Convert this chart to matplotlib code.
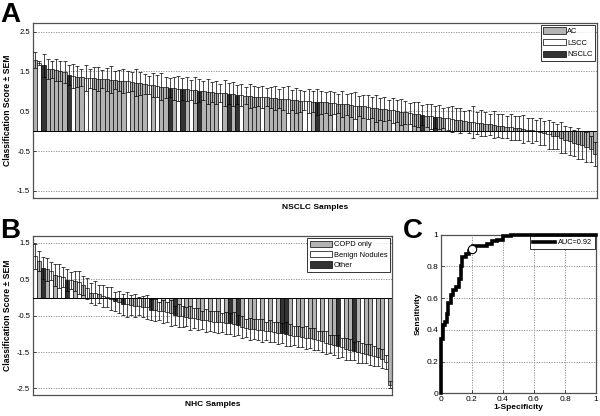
import matplotlib
matplotlib.use('Agg')
import matplotlib.pyplot as plt
import numpy as np
from matplotlib.patches import Patch

plt.rcParams['font.family'] = ['Liberation Sans', 'DejaVu Sans']

# ---------------- Panel A data (NSCLC samples, sorted) ----------------
nsclc_scores = [
    1.79, 1.70, 1.65, 1.56, 1.55, 1.53, 1.51, 1.49, 1.42, 1.39,
    1.37, 1.35, 1.34, 1.33, 1.33, 1.32, 1.31, 1.30, 1.29, 1.28,
    1.27, 1.26, 1.25, 1.24, 1.22, 1.20, 1.18, 1.16, 1.15, 1.13,
    1.12, 1.10, 1.09, 1.08, 1.07, 1.06, 1.05, 1.04, 1.03, 1.02,
    1.01, 0.99, 0.98, 0.97, 0.96, 0.95, 0.94, 0.93, 0.92, 0.91,
    0.89, 0.88, 0.87, 0.86, 0.85, 0.85, 0.84, 0.83, 0.82, 0.81,
    0.80, 0.78, 0.77, 0.76, 0.76, 0.75, 0.74, 0.73, 0.73, 0.72,
    0.71, 0.70, 0.69, 0.68, 0.67, 0.66, 0.64, 0.63, 0.62, 0.61,
    0.59, 0.57, 0.56, 0.55, 0.53, 0.52, 0.50, 0.49, 0.47, 0.45,
    0.44, 0.42, 0.41, 0.39, 0.37, 0.36, 0.35, 0.33, 0.32, 0.31,
    0.29, 0.27, 0.26, 0.24, 0.22, 0.21, 0.20, 0.18, 0.17, 0.16,
    0.14, 0.13, 0.11, 0.10, 0.08, 0.07, 0.05, 0.04, 0.02, 0.01,
    -0.01, -0.04, -0.08, -0.11, -0.13, -0.16, -0.21, -0.25, -0.29, -0.32,
    -0.35, -0.40, -0.44, -0.57,
]
nsclc_sem = [
    0.20, 0.05, 0.30, 0.25, 0.22, 0.27, 0.24, 0.28, 0.25, 0.30,
    0.26, 0.22, 0.32, 0.24, 0.27, 0.30, 0.23, 0.28, 0.34, 0.22,
    0.26, 0.31, 0.27, 0.24, 0.33, 0.29, 0.25, 0.22, 0.30, 0.27,
    0.35, 0.26, 0.24, 0.29, 0.31, 0.27, 0.30, 0.25, 0.32, 0.28,
    0.24, 0.31, 0.26, 0.29, 0.23, 0.33, 0.27, 0.30, 0.25, 0.28,
    0.22, 0.31, 0.26, 0.24, 0.28, 0.23, 0.27, 0.30, 0.25, 0.29,
    0.34, 0.26, 0.31, 0.28, 0.24, 0.30, 0.27, 0.33, 0.29, 0.26,
    0.31, 0.28, 0.24, 0.32, 0.27, 0.30, 0.34, 0.25, 0.29, 0.31,
    0.26, 0.33, 0.28, 0.30, 0.24, 0.31, 0.27, 0.33, 0.29, 0.26,
    0.30, 0.32, 0.25, 0.28, 0.31, 0.27, 0.30, 0.26, 0.29, 0.33,
    0.28, 0.31, 0.25, 0.29, 0.40, 0.27, 0.32, 0.30, 0.26, 0.34,
    0.28, 0.31, 0.27, 0.33, 0.29, 0.30, 0.36, 0.28, 0.31, 0.27,
    0.33, 0.30, 0.37, 0.35, 0.32, 0.38, 0.34, 0.36, 0.33, 0.39,
    0.35, 0.37, 0.33, 0.30,
]
# A = AC, L = LSCC, N = NSCLC
nsclc_types = list(
    "ALNAAAAANL" "AALLAAAAAA" "AALAAAALAL" "AANALNALAN" "AAAALANANL"
    "AAAALAAAAA" "LAAALLANAA" "ALAAAALAAL" "AAAAALAAAL" "AANALNAALL"
    "AAAALLAAAA" "AAALAAAAAL" "AALAAAAAAA" "AAAA"
)
nsclc_legend = ["AC", "LSCC", "NSCLC"]
nsclc_codes = ["A", "L", "N"]

# ---------------- Panel B data (NHC samples, sorted) ----------------
nhc_scores = [
    1.13, 1.00, 0.82, 0.78, 0.74, 0.62, 0.58, 0.57, 0.49, 0.47,
    0.45, 0.42, 0.34, 0.25, 0.13, 0.12, 0.10, 0.04, 0.02, -0.03,
    -0.10, -0.12, -0.18, -0.19, -0.20, -0.22, -0.24, -0.25, -0.27, -0.33,
    -0.35, -0.37, -0.38, -0.40, -0.42, -0.49, -0.50, -0.51, -0.53, -0.55,
    -0.57, -0.59, -0.61, -0.63, -0.65, -0.66, -0.67, -0.68, -0.70, -0.71,
    -0.74, -0.76, -0.80, -0.83, -0.86, -0.87, -0.89, -0.90, -0.92, -0.93,
    -0.95, -0.97, -0.98, -1.00, -1.03, -1.05, -1.07, -1.08, -1.10, -1.12,
    -1.14, -1.17, -1.20, -1.24, -1.27, -1.30, -1.34, -1.37, -1.41, -1.44,
    -1.47, -1.50, -1.52, -1.54, -1.57, -1.60, -1.64, -1.68, -1.77, -2.40,
]
nhc_sem = [
    0.35, 0.28, 0.30, 0.32, 0.25, 0.29, 0.33, 0.27, 0.30, 0.24,
    0.28, 0.31, 0.26, 0.29, 0.27, 0.33, 0.25, 0.30, 0.28, 0.32,
    0.26, 0.30, 0.29, 0.34, 0.27, 0.31, 0.25, 0.29, 0.33, 0.28,
    0.30, 0.26, 0.32, 0.28, 0.35, 0.27, 0.31, 0.29, 0.26, 0.33,
    0.28, 0.30, 0.25, 0.32, 0.27, 0.29, 0.31, 0.26, 0.30, 0.28,
    0.33, 0.27, 0.30, 0.25, 0.31, 0.28, 0.29, 0.32, 0.26, 0.30,
    0.28, 0.31, 0.27, 0.33, 0.29, 0.26, 0.30, 0.28, 0.32, 0.27,
    0.30, 0.26, 0.29, 0.31, 0.25, 0.28, 0.32, 0.27, 0.30, 0.29,
    0.26, 0.30, 0.28, 0.25, 0.29, 0.27, 0.24, 0.26, 0.20, 0.10,
]
# C = COPD only, B = Benign Nodules, O = Other
nhc_types = list(
    "BCOCBCBBOB" "CBCBCBCBBC" "OCOBCCBCBO" "CBCBCOCBCC" "BCCBCBCBCO"
    "COCBCCBCBC" "BCOOCBCCBC" "CBCBCCOBCC" "OCBCCBCCBC"
)
nhc_legend = ["COPD only", "Benign Nodules", "Other"]
nhc_codes = ["C", "B", "O"]

# ---------------- Panel C data (ROC) ----------------
roc_fpr = [0, 0, 0.005, 0.005, 0.015, 0.015, 0.03, 0.03, 0.04, 0.04, 0.05, 0.05,
           0.065, 0.065, 0.08, 0.08, 0.10, 0.10, 0.115, 0.115, 0.13, 0.13, 0.14,
           0.14, 0.16, 0.16, 0.18, 0.18, 0.20, 0.20, 0.21, 0.21, 0.30, 0.30, 0.33,
           0.33, 0.36, 0.36, 0.40, 0.40, 0.45, 0.45, 1.0]
roc_tpr = [0, 0.23, 0.23, 0.34, 0.34, 0.43, 0.43, 0.45, 0.45, 0.50, 0.50, 0.57,
           0.57, 0.62, 0.62, 0.65, 0.65, 0.67, 0.67, 0.72, 0.72, 0.80, 0.80,
           0.86, 0.86, 0.88, 0.88, 0.90, 0.90, 0.91, 0.91, 0.93, 0.93, 0.94, 0.94,
           0.96, 0.96, 0.97, 0.97, 0.99, 0.99, 1.0, 1.0]
op_point = (0.20, 0.91)
auc_label = "AUC=0.92"

ticks_a = [2.5, 1.5, 0.5, -0.5, -1.5]
ticks_b = [1.5, 0.5, -0.5, -1.5, -2.5]
ticks_c = [0, 0.2, 0.4, 0.6, 0.8, 1]
ticklabels_c = ["0", "0.2", "0.4", "0.6", "0.8", "1"]

# ---------------- styling ----------------
fill = {"A": "#b3b3b3", "L": "#ffffff", "N": "#333333",
        "C": "#b3b3b3", "B": "#ffffff", "O": "#333333"}
spine_col = "#505050"
grid_kw = dict(color="#888888", linestyle=(0, (1.5, 1.5)), linewidth=0.6)
tick_fs = 5.5
lab_fs = 6

fig = plt.figure(figsize=(6.0, 4.16), dpi=100)


def bar_panel(ax, scores, sem, types, codes, labels, ylim, yticks, xlabel, lspace):
    x = np.arange(1, len(scores) + 1)
    cols = [fill[t] for t in types]
    for yt in yticks:
        ax.axhline(yt, zorder=0, **grid_kw)
    ax.bar(x, scores, width=1.0, color=cols, edgecolor="black", linewidth=0.45, zorder=2)
    ax.errorbar(x, scores, yerr=sem, fmt="none", ecolor="black", elinewidth=0.5,
                capsize=1.1, capthick=0.5, zorder=3)
    ax.axhline(0, color="black", linewidth=0.7, zorder=4)
    ax.set_xlim(0.5, len(scores) + 0.5)
    ax.set_ylim(*ylim)
    ax.set_yticks(yticks)
    ax.set_yticklabels([f"{t:g}" for t in yticks], fontsize=tick_fs)
    ax.set_xticks([])
    ax.tick_params(axis="y", direction="in", length=2, pad=2, width=0.5)
    for s in ax.spines.values():
        s.set_color(spine_col)
        s.set_linewidth(0.9)
    ax.set_xlabel(xlabel, fontsize=lab_fs, fontweight="bold", labelpad=4)
    ax.set_ylabel("Classification Score \u00b1 SEM", fontsize=6.2, fontweight="bold", labelpad=4)
    handles = [Patch(facecolor=fill[c], edgecolor="black", linewidth=0.5) for c in codes]
    leg = ax.legend(handles, labels, loc="upper right", fontsize=5.4, frameon=True,
                    fancybox=False, handlelength=3.0, handleheight=0.95, handletextpad=0.2,
                    labelspacing=lspace, borderpad=0.3, borderaxespad=0.3, edgecolor="black")
    leg.get_frame().set_linewidth(0.7)
    leg.set_zorder(10)


axA = fig.add_axes([0.055, 0.524, 0.940, 0.421])
bar_panel(axA, nsclc_scores, nsclc_sem, nsclc_types, nsclc_codes, nsclc_legend,
          (-1.68, 2.72), ticks_a, "NSCLC Samples", 0.5)

axB = fig.add_axes([0.055, 0.0505, 0.598, 0.382])
bar_panel(axB, nhc_scores, nhc_sem, nhc_types, nhc_codes, nhc_legend,
          (-2.68, 1.69), ticks_b, "NHC Samples", 0.35)

axC = fig.add_axes([0.7345, 0.0546, 0.259, 0.381])
for t in ticks_c[1:-1]:
    axC.axhline(t, zorder=0, **grid_kw)
    axC.axvline(t, zorder=0, **grid_kw)
axC.plot(roc_fpr, roc_tpr, color="black", linewidth=2.6, label=auc_label, zorder=3,
         solid_joinstyle="miter", clip_on=False)
axC.plot([op_point[0]], [op_point[1]], marker="o", markersize=6, markerfacecolor="white",
         markeredgecolor="black", markeredgewidth=0.8, linestyle="none", zorder=4)
axC.set_xlim(0, 1)
axC.set_ylim(0, 1)
axC.set_xticks(ticks_c)
axC.set_xticklabels(ticklabels_c, fontsize=tick_fs + 0.5)
axC.set_yticks(ticks_c)
axC.set_yticklabels(ticklabels_c, fontsize=tick_fs + 0.5)
axC.tick_params(direction="in", length=2, pad=2, width=0.5)
for s in axC.spines.values():
    s.set_color(spine_col)
    s.set_linewidth(0.9)
axC.set_xlabel("1-Specificity", fontsize=lab_fs, fontweight="bold", labelpad=1)
axC.set_ylabel("Sensitivity", fontsize=lab_fs, fontweight="bold", labelpad=3)
legC = axC.legend(loc="upper right", fontsize=5.3, frameon=True, fancybox=False,
                  handlelength=3.0, handletextpad=0.3, borderpad=0.4, borderaxespad=0.2,
                  edgecolor="black")
legC.get_frame().set_linewidth(0.7)

# panel letters
fig.text(0.0, 0.995, "A", fontsize=20, fontweight="bold", va="top", ha="left")
fig.text(0.0, 0.475, "B", fontsize=20, fontweight="bold", va="top", ha="left")
fig.text(0.672, 0.475, "C", fontsize=20, fontweight="bold", va="top", ha="left")

fig.savefig("out.png", dpi=100)
